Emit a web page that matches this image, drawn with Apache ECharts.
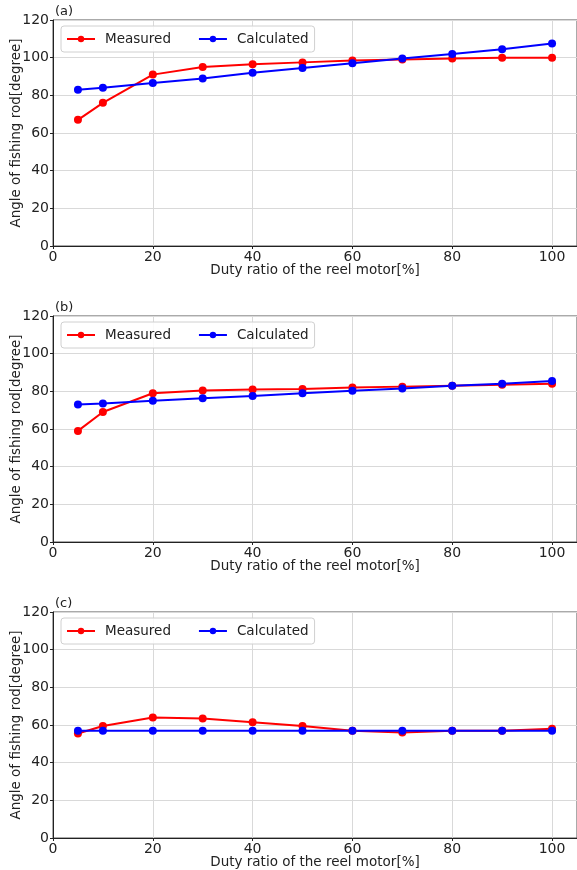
<!DOCTYPE html>
<html>
<head>
<meta charset="utf-8">
<script src="https://cdn.jsdelivr.net/npm/echarts@6/dist/echarts.min.js"></script>
<style>
  html, body { margin: 0; padding: 0; background: #fff; }
  #chart { width: 577px; height: 870px; }
</style>
</head>
<body>
<div id="chart"></div>
<script>
// duty ratio [%]
var duty = [5, 10, 20, 30, 40, 50, 60, 70, 80, 90, 100]

var measuredA = [67, 76, 91, 95, 96.5, 97.5, 98.5, 99, 99.5, 100, 100]
var calculatedA = [83, 84, 86.5, 89, 92, 94.5, 97, 99.5, 102, 104.5, 107.5]

var measuredB = [59, 69, 79, 80.5, 81, 81.3, 82, 82.5, 83, 83.5, 84]
var calculatedB = [73, 73.5, 75, 76.3, 77.5, 79, 80.3, 81.5, 83, 84, 85.5]

var measuredC = [55.5, 59.5, 64, 63.5, 61.5, 59.5, 57, 56, 57, 57, 58]
var calculatedC = [57, 57, 57, 57, 57, 57, 57, 57, 57, 57, 57]

var panelLabels = ['(a)', '(b)', '(c)']
var seriesNames = ['Measured', 'Calculated']

var font = 'DejaVu Sans'
var panelTops = [20, 316, 612]
var panelData = [[measuredA, calculatedA], [measuredB, calculatedB], [measuredC, calculatedC]]

function pairs(ys) {
  return duty.map(function (x, i) { return [x, ys[i]] })
}

var grids = [], xAxes = [], yAxes = [], series = [], legends = [], titles = []

panelTops.forEach(function (top, k) {
  grids.push({
    left: 53, right: 0, top: top, height: 226,
    outerBoundsMode: 'none', containLabel: false,
    show: true, borderColor: '#555', borderWidth: 1
  })
  xAxes.push({
    gridIndex: k,
    type: 'value',
    min: 0,
    max: 105,
    interval: 20,
    name: 'Duty ratio of the reel motor[%]',
    nameLocation: 'middle',
    nameGap: 17,
    nameMoveOverlap: false,
    nameTextStyle: { fontFamily: font, fontSize: 13.5, color: '#222' },
    axisLine: { show: true, lineStyle: { color: '#222' } },
    axisTick: { show: true, length: 3, lineStyle: { color: '#222' } },
    axisLabel: {
      fontFamily: font, fontSize: 14, color: '#222', margin: 4,
      formatter: function (v) { return v % 20 === 0 ? v : '' }
    },
    splitLine: { show: true, lineStyle: { color: '#d9d9d9' } }
  })
  yAxes.push({
    gridIndex: k,
    type: 'value',
    min: 0,
    max: 120,
    interval: 20,
    name: 'Angle of fishing rod[degree]',
    nameLocation: 'middle',
    nameGap: 30,
    nameMoveOverlap: false,
    nameTextStyle: { fontFamily: font, fontSize: 13.5, color: '#222' },
    axisLine: { show: true, lineStyle: { color: '#222' } },
    axisTick: { show: true, length: 3, lineStyle: { color: '#222' } },
    axisLabel: { fontFamily: font, fontSize: 14, color: '#222', margin: 4 },
    splitLine: { show: true, lineStyle: { color: '#d9d9d9' } }
  })
  var colors = ['#ff0000', '#0000ff']
  seriesNames.forEach(function (name, j) {
    series.push({
      name: name,
      type: 'line',
      xAxisIndex: k,
      yAxisIndex: k,
      data: pairs(panelData[k][j]),
      symbol: 'circle',
      symbolSize: 8,
      color: colors[j],
      lineStyle: { width: 2, color: colors[j] },
      itemStyle: { color: colors[j] },
      animation: false
    })
  })
  legends.push({
    data: seriesNames,
    left: 61,
    top: top + 6,
    itemWidth: 28,
    itemHeight: 8,
    itemGap: 27,
    padding: [6, 6, 6, 5],
    backgroundColor: 'rgba(255,255,255,0.85)',
    borderColor: '#d0d0d0',
    borderWidth: 1,
    borderRadius: 3,
    textStyle: { fontFamily: font, fontSize: 13.5, color: '#222', padding: [0, 0, 0, 5] }
  })
  titles.push({
    text: panelLabels[k],
    left: 55,
    top: top - 15,
    padding: 0,
    textStyle: { fontFamily: font, fontSize: 13, fontWeight: 'normal', color: '#222' }
  })
})

var chart = echarts.init(document.getElementById('chart'))
chart.setOption({
  backgroundColor: '#fff',
  animation: false,
  title: titles,
  legend: legends,
  grid: grids,
  xAxis: xAxes,
  yAxis: yAxes,
  series: series
})
</script>
</body>
</html>
